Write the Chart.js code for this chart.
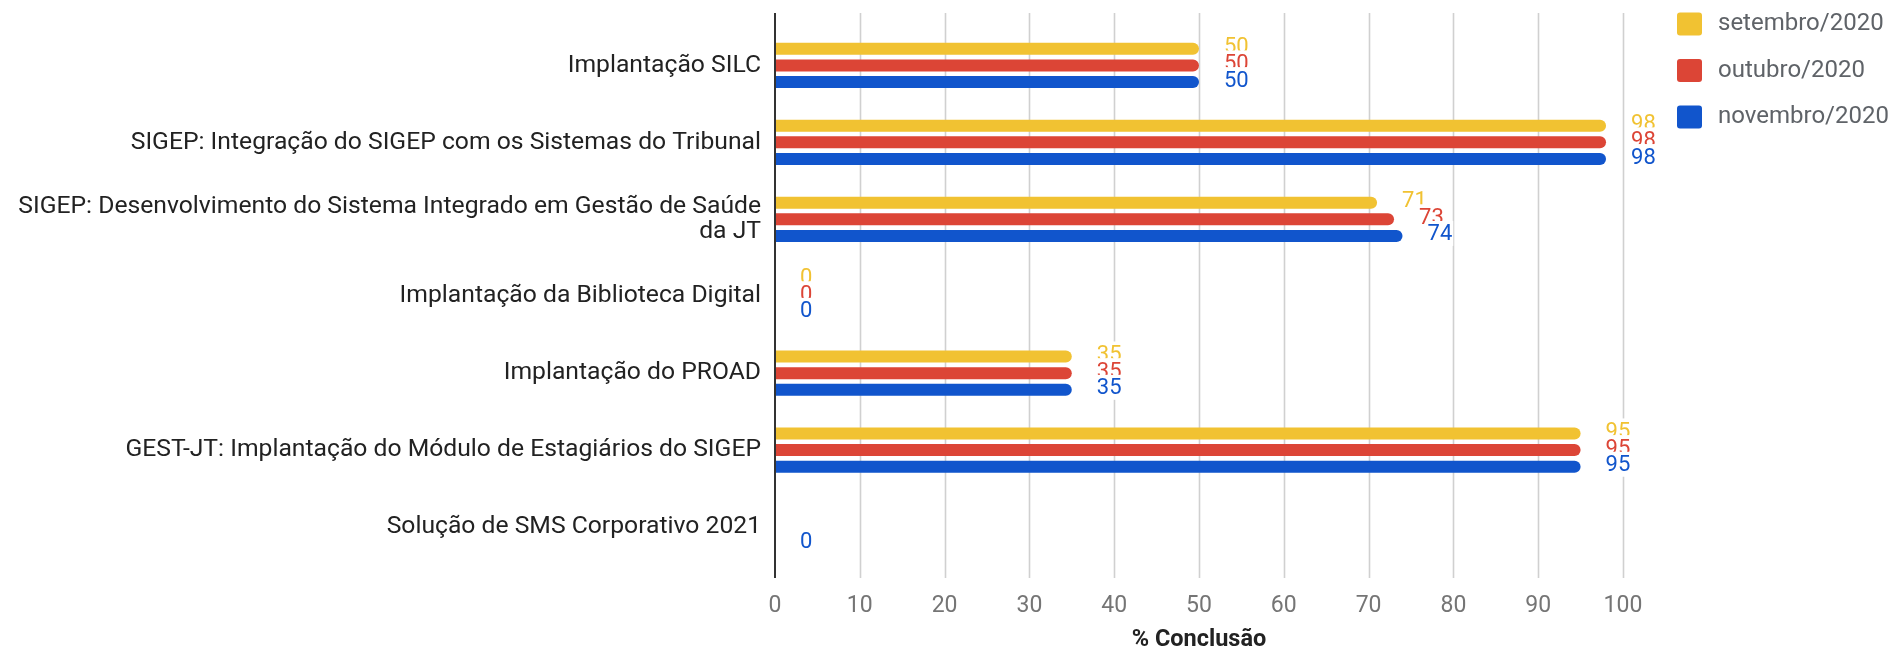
<!DOCTYPE html>
<html>
<head>
<meta charset="utf-8">
<script src="https://cdn.jsdelivr.net/npm/chart.js@4/dist/chart.umd.min.js"></script>
<style>
  html, body { margin: 0; padding: 0; background: #fff; }
  #wrap { width: 1899px; height: 652px; }
</style>
</head>
<body>
<div id="wrap"><canvas id="chart" width="1899" height="652"></canvas></div>
<script>
// Data
const categories = [
    'Implantação SILC',
    'SIGEP: Integração do SIGEP com os Sistemas do Tribunal',
    ['SIGEP: Desenvolvimento do Sistema Integrado em Gestão de Saúde', 'da JT'],
    'Implantação da Biblioteca Digital',
    'Implantação do PROAD',
    'GEST-JT: Implantação do Módulo de Estagiários do SIGEP',
    'Solução de SMS Corporativo 2021'
];
const seriesNames = ['setembro/2020', 'outubro/2020', 'novembro/2020'];
const setembro = [50, 98, 71, 0, 35, 95, null];
const outubro = [50, 98, 73, 0, 35, 95, null];
const novembro = [50, 98, 74, 0, 35, 95, 0];
const xTicks = [0, 10, 20, 30, 40, 50, 60, 70, 80, 90, 100];
const colors = ['#f1c232', '#dc4536', '#1155cc'];

const FONT = 'Roboto, "Noto Sans", sans-serif';
const GRID_TOP = 13, GRID_BOTTOM = 578;

// gridlines reach a bit past the bar area, like the original
const gridPlugin = {
    id: 'grid',
    beforeDatasetsDraw(chart) {
        const { ctx } = chart;
        const x = chart.scales.x;
        ctx.save();
        ctx.strokeStyle = '#d0d0d0';
        ctx.lineWidth = 1.6;
        xTicks.forEach(t => {
            if (t === 0) return;
            const px = Math.round(x.getPixelForValue(t)) + 0.5;
            ctx.beginPath();
            ctx.moveTo(px, GRID_TOP);
            ctx.lineTo(px, GRID_BOTTOM);
            ctx.stroke();
        });
        ctx.restore();
    },
    afterDatasetsDraw(chart) {
        const { ctx } = chart;
        const px = chart.scales.x.getPixelForValue(0);
        ctx.save();
        ctx.strokeStyle = '#333';
        ctx.lineWidth = 2;
        ctx.beginPath();
        ctx.moveTo(px, GRID_TOP);
        ctx.lineTo(px, GRID_BOTTOM);
        ctx.stroke();
        ctx.restore();
    }
};

// value labels after each bar, each with a white box that hides the one above
const labelPlugin = {
    id: 'valueLabels',
    afterDatasetsDraw(chart) {
        const { ctx } = chart;
        ctx.save();
        ctx.font = '22px ' + FONT;
        ctx.textAlign = 'left';
        ctx.textBaseline = 'middle';
        chart.data.datasets.forEach((ds, i) => {
            const meta = chart.getDatasetMeta(i);
            meta.data.forEach((bar, j) => {
                const v = ds.data[j];
                if (v === null || v === undefined) return;
                const txt = String(v);
                const tx = bar.x + 25;
                const ty = bar.y - 1;
                const w = ctx.measureText(txt).width;
                ctx.fillStyle = '#fff';
                ctx.fillRect(tx - 1, ty - 14, w + 2, 25);
                ctx.fillStyle = colors[i];
                ctx.fillText(txt, tx, ty);
            });
        });
        ctx.restore();
    }
};

// legend in the top right corner
const legendPlugin = {
    id: 'sideLegend',
    afterDraw(chart) {
        const { ctx } = chart;
        ctx.save();
        ctx.font = '24px ' + FONT;
        ctx.textBaseline = 'middle';
        ctx.textAlign = 'left';
        seriesNames.forEach((name, i) => {
            const cy = 24 + i * 46.5;
            ctx.fillStyle = colors[i];
            ctx.beginPath();
            ctx.roundRect(1677, cy - 11.5, 25, 23, 3);
            ctx.fill();
            ctx.fillStyle = '#5f6368';
            ctx.fillText(name, 1718, cy);
        });
        ctx.restore();
    }
};

const datasets = [setembro, outubro, novembro].map((d, i) => ({
    label: seriesNames[i],
    data: d,
    backgroundColor: colors[i],
    borderRadius: 6,
    borderSkipped: 'start',
    categoryPercentage: 0.65,
    barPercentage: 0.72
}));

new Chart(document.getElementById('chart'), {
    type: 'bar',
    data: { labels: categories, datasets: datasets },
    options: {
        indexAxis: 'y',
        responsive: false,
        animation: false,
        layout: { padding: { top: 25.5, right: 276, bottom: 0, left: 0 } },
        scales: {
            x: {
                min: 0,
                max: 100,
                afterBuildTicks(scale) {
                    scale.ticks = xTicks.map(v => ({ value: v }));
                },
                afterFit(scale) { scale.height = 86.5; },
                grid: { display: false, drawTicks: false },
                border: { display: false },
                ticks: {
                    color: '#757575',
                    font: { family: FONT, size: 23 },
                    padding: 27
                },
                title: {
                    display: true,
                    text: '% Conclusão',
                    color: '#222',
                    font: { family: FONT, size: 23.5, weight: 'bold', lineHeight: 1.0 },
                    padding: { top: 0, bottom: 0 }
                }
            },
            y: {
                afterFit(scale) { scale.width = 775; },
                grid: { display: false, drawTicks: false },
                border: { display: false },
                ticks: {
                    color: '#222',
                    font: { family: FONT, size: 24.7, lineHeight: 1.05 },
                    padding: 14,
                    autoSkip: false
                }
            }
        },
        plugins: {
            legend: { display: false },
            tooltip: { enabled: false }
        }
    },
    plugins: [gridPlugin, labelPlugin, legendPlugin]
});
</script>
</body>
</html>
